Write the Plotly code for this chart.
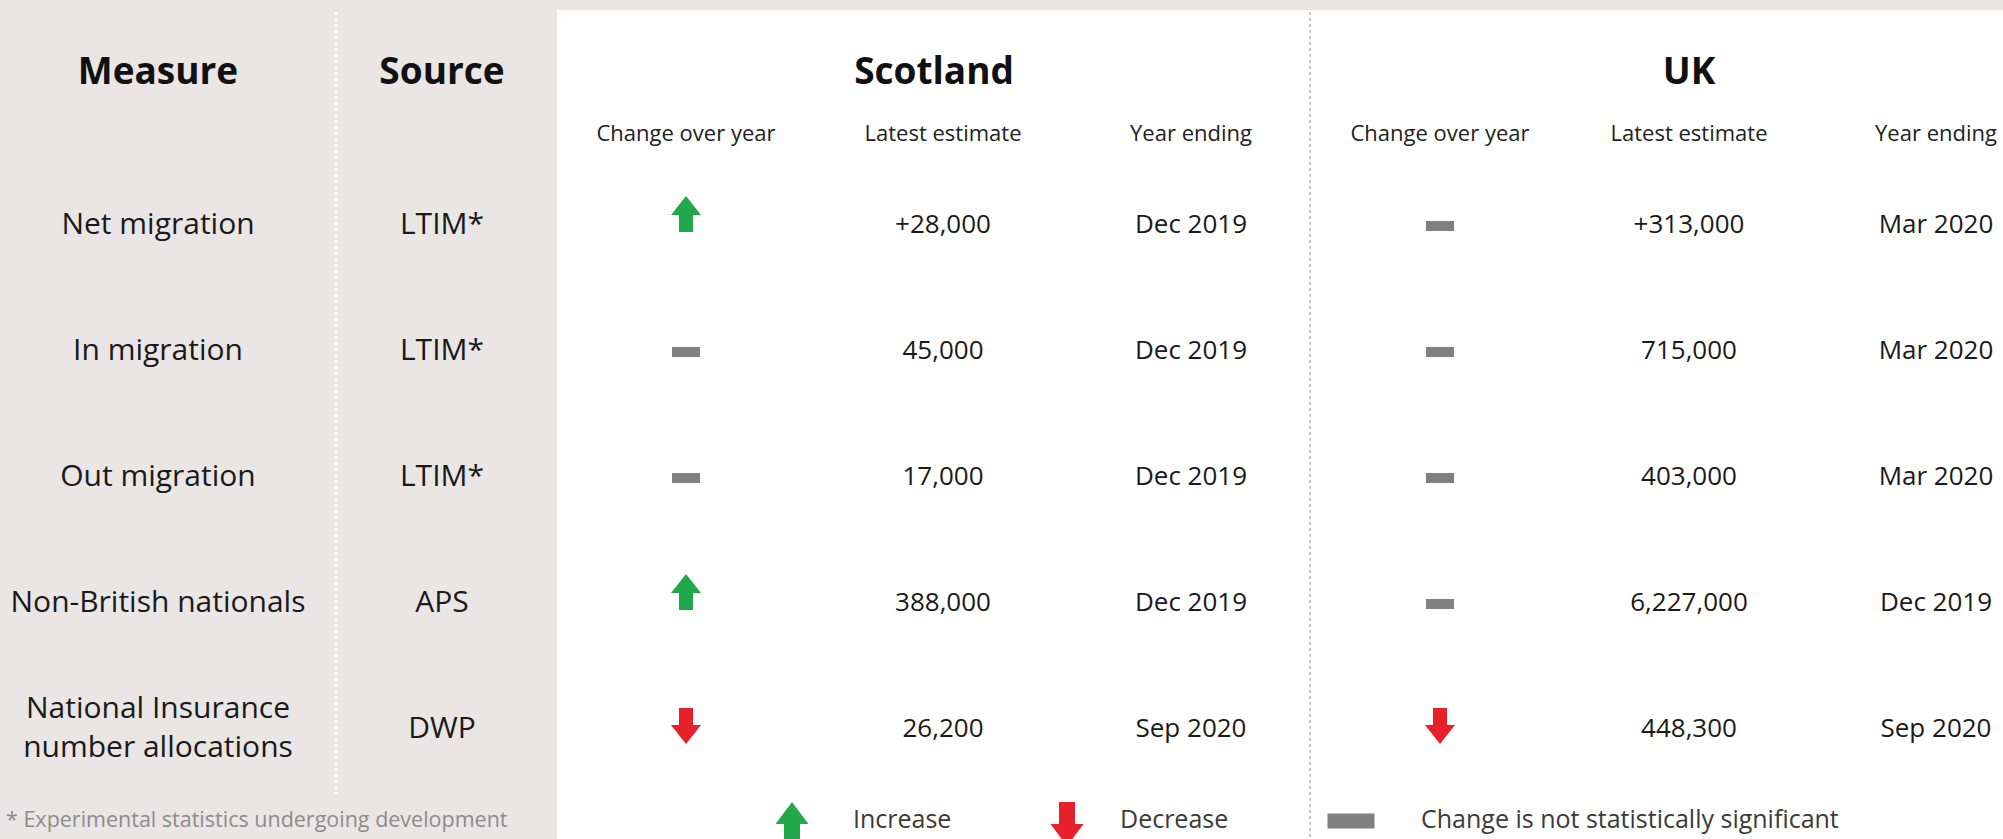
import plotly.graph_objects as go

# --- table data -------------------------------------------------------------
measures = [
    "Net migration",
    "In migration",
    "Out migration",
    "Non-British nationals",
    "National Insurance<br>number allocations",
]
sources = ["LTIM*", "LTIM*", "LTIM*", "APS", "DWP"]

scotland_change = ["up", "none", "none", "up", "down"]
scotland_estimate = ["+28,000", "45,000", "17,000", "388,000", "26,200"]
scotland_year = ["Dec 2019", "Dec 2019", "Dec 2019", "Dec 2019", "Sep 2020"]

uk_change = ["none", "none", "none", "none", "down"]
uk_estimate = ["+313,000", "715,000", "403,000", "6,227,000", "448,300"]
uk_year = ["Mar 2020", "Mar 2020", "Mar 2020", "Dec 2019", "Sep 2020"]

sub_headers = ["Change over year", "Latest estimate", "Year ending"]
legend_labels = ["Increase", "Decrease", "Change is not statistically significant"]
footnote = "* Experimental statistics undergoing development"

# --- layout constants (pixels) -----------------------------------------------
W, H = 2003, 839
PANEL_W = 557
ROW_Y0, ROW_GAP = 226, 126
HEAD_Y, SUB_Y = 75, 135
X_MEASURE, X_SOURCE = 158, 442
SCOT_X = [686, 943, 1191]
UK_X = [1440, 1689, 1936]

GREEN = "#21a84a"
RED = "#e8202a"
GREY = "#808080"
FONT = "Open Sans, Noto Sans, sans-serif"

row_y = [ROW_Y0 + i * ROW_GAP for i in range(len(measures))]


def arrow_xy(cx, cy, w, h, head_h, stem_w, up=True):
    """Block arrow outline, returned as x/y lists (y axis points down)."""
    s = -1 if up else 1
    tip = cy + s * h / 2
    base = cy - s * h / 2
    neck = tip - s * head_h
    xs = [cx, cx + w / 2, cx + stem_w / 2, cx + stem_w / 2,
          cx - stem_w / 2, cx - stem_w / 2, cx - w / 2, cx, None]
    ys = [tip, neck, neck, base, base, neck, neck, tip, None]
    return xs, ys


def bar_xy(cx, cy, w, h):
    xs = [cx - w / 2, cx + w / 2, cx + w / 2, cx - w / 2, cx - w / 2, None]
    ys = [cy - h / 2, cy - h / 2, cy + h / 2, cy + h / 2, cy - h / 2, None]
    return xs, ys


fig = go.Figure()

# icons
icons = {"up": ([], []), "down": ([], []), "none": ([], [])}
for changes, cx in [(scotland_change, SCOT_X[0]), (uk_change, UK_X[0])]:
    for ch, y in zip(changes, row_y):
        if ch == "up":
            xs, ys = arrow_xy(cx, y - 12, 30, 36, 19, 14, up=True)
        elif ch == "down":
            xs, ys = arrow_xy(cx, y - 4, 30, 36, 19, 14, up=False)
        else:
            xs, ys = bar_xy(cx, y, 28, 10)
        icons[ch][0].extend(xs)
        icons[ch][1].extend(ys)

# legend icons
LEG_Y = 822
for key, (xs, ys) in zip(["up", "down", "none"], [
        arrow_xy(792, LEG_Y + 2, 33, 44, 22, 16, up=True),
        arrow_xy(1067, LEG_Y + 2, 33, 44, 22, 16, up=False),
        bar_xy(1351, LEG_Y - 1, 47, 15)]):
    icons[key][0].extend(xs)
    icons[key][1].extend(ys)

for key, col in [("up", GREEN), ("down", RED), ("none", GREY)]:
    fig.add_trace(go.Scatter(
        x=icons[key][0], y=icons[key][1], mode="lines", fill="toself",
        fillcolor=col, line=dict(width=0, color=col), hoverinfo="skip"
    ))


def add_text(xs, ys, texts, size, color="#1a1a1a", bold=False, pos="middle center"):
    fig.add_trace(go.Scatter(
        x=xs, y=ys, text=texts, mode="text", textposition=pos,
        textfont=dict(family=FONT, size=size, color=color,
                      weight="bold" if bold else "normal"),
        hoverinfo="skip"
    ))


# headers
add_text([X_MEASURE, X_SOURCE, 934, 1689], [HEAD_Y] * 4,
         ["Measure", "Source", "Scotland", "UK"], 37, color="#111111", bold=True)
add_text(SCOT_X + UK_X, [SUB_Y] * 6, sub_headers * 2, 22, color="#222222")

# rows
add_text([X_MEASURE] * len(measures), row_y, measures, 30)
add_text([X_SOURCE] * len(sources), row_y, sources, 30)
add_text([SCOT_X[1]] * 5, row_y, scotland_estimate, 26)
add_text([SCOT_X[2]] * 5, row_y, scotland_year, 26)
add_text([UK_X[1]] * 5, row_y, uk_estimate, 26)
add_text([UK_X[2]] * 5, row_y, uk_year, 26)

# legend and footnote
add_text([853, 1120, 1421], [LEG_Y] * 3, legend_labels, 25,
         color="#3a3a3a", pos="middle right")
add_text([6], [LEG_Y], [footnote], 21.5, color="#8c8c8c", pos="middle right")

shapes = [
    dict(type="rect", x0=0, x1=PANEL_W, y0=0, y1=H, fillcolor="#e9e6e5",
         line_width=0, layer="below"),
    dict(type="rect", x0=0, x1=W, y0=0, y1=10, fillcolor="#e9e6e5",
         line_width=0, layer="below"),
    dict(type="line", x0=336, x1=336, y0=12, y1=794,
         line=dict(color="white", width=3, dash="dot"), layer="below"),
    dict(type="line", x0=1310, x1=1310, y0=12, y1=H,
         line=dict(color="#c8c8c8", width=2, dash="dot"), layer="below"),
]

fig.update_layout(
    width=W, height=H,
    margin=dict(l=0, r=0, t=0, b=0),
    paper_bgcolor="white", plot_bgcolor="white",
    showlegend=False,
    shapes=shapes,
    xaxis=dict(range=[0, W], visible=False, fixedrange=True),
    yaxis=dict(range=[H, 0], visible=False, fixedrange=True),
)

fig.write_html(
    "out.html",
    config={"displayModeBar": False},
    post_script="document.body.style.margin='0';document.body.style.overflow='hidden';",
)
